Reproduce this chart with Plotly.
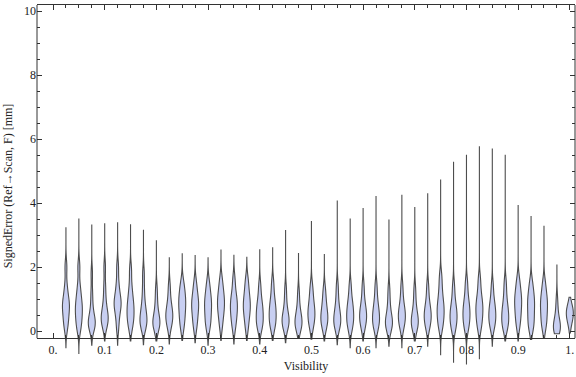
import plotly.graph_objects as go

# ---- data ----
visibility = [0.025, 0.05, 0.075, 0.1, 0.125, 0.15, 0.175, 0.2, 0.225, 0.25,
              0.275, 0.3, 0.325, 0.35, 0.375, 0.4, 0.425, 0.45, 0.475, 0.5,
              0.525, 0.55, 0.575, 0.6, 0.625, 0.65, 0.675, 0.7, 0.725, 0.75,
              0.775, 0.8, 0.825, 0.85, 0.875, 0.9, 0.925, 0.95, 0.975, 1.0]

err_max = [3.25, 3.52, 3.33, 3.37, 3.40, 3.34, 3.17, 2.84, 2.31, 2.43,
           2.36, 2.29, 2.53, 2.37, 2.31, 2.56, 2.62, 3.16, 2.44, 3.44,
           2.41, 4.08, 3.52, 3.85, 4.22, 3.49, 4.26, 3.88, 4.31, 4.74,
           5.29, 5.51, 5.78, 5.71, 5.51, 3.94, 3.60, 3.29, 2.08, 1.06]

err_min = [-0.52, -0.70, -0.44, -0.31, -0.44, -0.31, -0.42, -0.31, -0.40, -0.29,
           -0.36, -0.44, -0.29, -0.40, -0.29, -0.40, -0.29, -0.36, -0.23, -0.25,
           -0.31, -0.42, -0.52, -0.31, -0.52, -0.47, -0.52, -0.31, -0.47, -0.75,
           -0.99, -1.04, -0.88, -0.47, -0.31, -0.31, -0.26, -0.23, -0.08, -0.06]

# representative error samples in the body of each violin
err_body = [
    [0.1, 0.3, 0.5, 0.7, 0.8, 0.9, 1.1, 1.4, 2.0],
    [0.05, 0.25, 0.45, 0.6, 0.75, 0.9, 1.1, 1.4, 2.0],
    [0.1, 0.15, 0.2, 0.3, 0.35, 0.5, 0.8, 1.2, 1.8],
    [0.15, 0.25, 0.35, 0.45, 0.55, 0.7, 1.0, 1.4, 2.0],
    [0.1, 0.45, 0.7, 0.8, 0.9, 1.0, 1.2, 1.5, 2.0],
    [0.1, 0.3, 0.45, 0.6, 0.75, 0.9, 1.1, 1.4, 1.9],
    [0.1, 0.2, 0.3, 0.4, 0.5, 0.7, 0.9, 1.3, 1.8],
    [0.1, 0.15, 0.25, 0.3, 0.4, 0.6, 0.9, 1.3],
    [0.1, 0.3, 0.4, 0.5, 0.6, 0.75, 1.0, 1.4],
    [0.1, 0.35, 0.55, 0.75, 0.9, 1.05, 1.25, 1.5],
    [0.1, 0.35, 0.55, 0.75, 0.85, 1.0, 1.2, 1.5],
    [0.1, 0.3, 0.5, 0.7, 0.85, 1.0, 1.2, 1.5],
    [0.15, 0.45, 0.65, 0.8, 0.95, 1.1, 1.3, 1.6],
    [0.1, 0.35, 0.55, 0.7, 0.85, 1.0, 1.2, 1.6],
    [0.1, 0.4, 0.6, 0.75, 0.9, 1.05, 1.3, 1.6],
    [0.1, 0.2, 0.35, 0.5, 0.65, 0.8, 1.0, 1.4],
    [0.1, 0.25, 0.4, 0.55, 0.7, 0.85, 1.1, 1.5],
    [0.1, 0.2, 0.3, 0.35, 0.45, 0.6, 0.9, 1.3],
    [0.05, 0.15, 0.25, 0.3, 0.4, 0.55, 0.8, 1.2],
    [0.1, 0.3, 0.45, 0.55, 0.7, 0.85, 1.1, 1.4],
    [0.1, 0.25, 0.35, 0.45, 0.6, 0.75, 1.0, 1.3],
    [0.1, 0.2, 0.3, 0.4, 0.55, 0.7, 1.0, 1.4],
    [0.05, 0.25, 0.35, 0.5, 0.65, 0.8, 1.0, 1.4],
    [0.1, 0.25, 0.4, 0.5, 0.6, 0.75, 1.0, 1.4],
    [0.1, 0.2, 0.35, 0.45, 0.6, 0.75, 1.0, 1.4],
    [0.05, 0.15, 0.25, 0.3, 0.4, 0.6, 0.9, 1.3],
    [0.1, 0.25, 0.4, 0.5, 0.6, 0.75, 1.0, 1.4],
    [0.05, 0.15, 0.25, 0.35, 0.45, 0.6, 0.9, 1.3],
    [0.1, 0.25, 0.4, 0.5, 0.6, 0.75, 1.0, 1.4],
    [0.1, 0.3, 0.5, 0.65, 0.8, 1.0, 1.3, 1.7],
    [0.05, 0.2, 0.35, 0.5, 0.6, 0.75, 1.0, 1.4],
    [0.05, 0.25, 0.4, 0.55, 0.7, 0.85, 1.1, 1.5],
    [0.1, 0.3, 0.5, 0.65, 0.8, 0.95, 1.2, 1.6],
    [0.1, 0.25, 0.4, 0.5, 0.65, 0.8, 1.0, 1.4],
    [0.1, 0.2, 0.35, 0.5, 0.65, 0.8, 1.1, 1.5],
    [0.15, 0.4, 0.6, 0.8, 0.95, 1.1, 1.3, 1.6],
    [0.05, 0.25, 0.45, 0.65, 0.85, 1.0, 1.2, 1.5],
    [0.1, 0.3, 0.5, 0.7, 0.85, 1.0, 1.2, 1.5],
    [0.0, 0.02, 0.05, 0.1, 0.15, 0.2, 0.3, 0.45, 0.7, 1.0],
    [0.2, 0.4, 0.5, 0.55, 0.6, 0.7, 0.8],
]

x_tickvals = [0.0, 0.1, 0.2, 0.3, 0.4, 0.5, 0.6, 0.7, 0.8, 0.9, 1.0]
x_ticktext = ["0.", "0.1", "0.2", "0.3", "0.4", "0.5", "0.6", "0.7", "0.8", "0.9", "1."]
x_minor = [i * 0.025 for i in range(41)]
y_tickvals = [0, 2, 4, 6, 8, 10]
y_ticktext = ["0", "2", "4", "6", "8", "10"]
y_minor = [i * 0.5 for i in range(21)]

# ---- layout geometry ----
X_RANGE = [-0.031, 1.01]
Y_RANGE = [-1.12, 10.19]
FRAME_BOTTOM = -0.22
axis_pos = (FRAME_BOTTOM - Y_RANGE[0]) / (Y_RANGE[1] - Y_RANGE[0])

FONT = "Liberation Serif, Times New Roman, serif"
FILL = "#c8cff2"
EDGE = "#4d4d4d"
FRAME = "#333333"

fig = go.Figure()
for xv, lo, hi, body in zip(visibility, err_min, err_max, err_body):
    fig.add_trace(go.Violin(
        x0=xv, y=body, span=[lo, hi], spanmode="manual",
        bandwidth=0.24, width=0.0135, scalemode="width",
        fillcolor=FILL, line=dict(color=EDGE, width=1.1),
        points=False, box_visible=False, meanline_visible=False,
        showlegend=False, hoverinfo="skip", orientation="v",
    ))

# empty trace so that the top axis is drawn
fig.add_trace(go.Scatter(x=[], y=[], xaxis="x2", yaxis="y", showlegend=False))

tickfont = dict(family=FONT, size=12, color="#222222")

fig.update_layout(
    width=576, height=377,
    margin=dict(l=37, r=1, t=5, b=10),
    paper_bgcolor="white", plot_bgcolor="white",
    showlegend=False,
    xaxis=dict(
        range=X_RANGE, anchor="free", position=axis_pos,
        showgrid=False, zeroline=False,
        showline=True, linecolor=FRAME, linewidth=1,
        tickmode="array", tickvals=x_tickvals, ticktext=x_ticktext,
        ticks="inside", ticklen=5, tickcolor=FRAME, tickwidth=1,
        minor=dict(tickmode="array", tickvals=x_minor, ticks="inside",
                   ticklen=3, tickcolor=FRAME, tickwidth=1),
        tickfont=tickfont,
        title=dict(text="Visibility", font=dict(family=FONT, size=12, color="#222222"),
                   standoff=6),
        automargin=False,
    ),
    xaxis2=dict(
        range=X_RANGE, overlaying="x", side="top", anchor="y",
        showgrid=False, zeroline=False,
        showline=True, linecolor=FRAME, linewidth=1,
        tickmode="array", tickvals=x_tickvals, showticklabels=False,
        ticks="inside", ticklen=5, tickcolor=FRAME, tickwidth=1,
        minor=dict(tickmode="array", tickvals=x_minor, ticks="inside",
                   ticklen=3, tickcolor=FRAME, tickwidth=1),
        automargin=False,
    ),
    yaxis=dict(
        range=Y_RANGE, showgrid=False, zeroline=False,
        showline=False, mirror="ticks",
        tickmode="array", tickvals=y_tickvals, ticktext=y_ticktext,
        ticks="inside", ticklen=5, tickcolor=FRAME, tickwidth=1,
        minor=dict(tickmode="array", tickvals=y_minor, ticks="inside",
                   ticklen=3, tickcolor=FRAME, tickwidth=1),
        tickfont=tickfont,
        title=dict(text="SignedError (Ref\u2192Scan, F) [mm]",
                   font=dict(family=FONT, size=12, color="#222222"), standoff=8),
        automargin=False,
    ),
    shapes=[
        dict(type="line", xref="paper", yref="paper", x0=0, x1=0, y0=axis_pos, y1=1,
             line=dict(color=FRAME, width=1)),
        dict(type="line", xref="paper", yref="paper", x0=1, x1=1, y0=axis_pos, y1=1,
             line=dict(color=FRAME, width=1)),
    ],
)

fig.write_html("out.html",
               config={"displayModeBar": False},
               post_script="document.body.style.margin='0';document.body.style.overflow='hidden';")
